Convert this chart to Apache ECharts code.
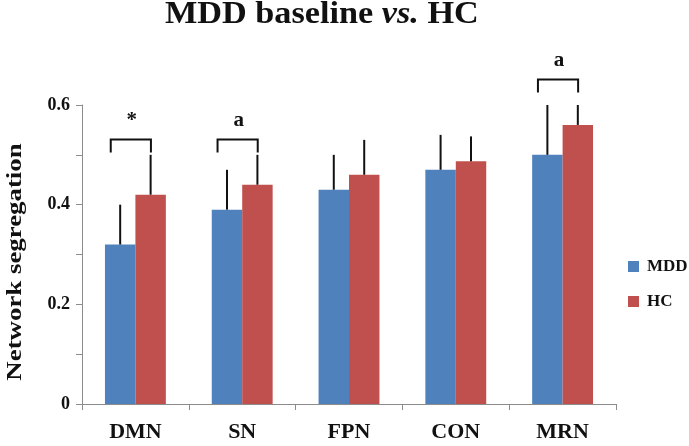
<!DOCTYPE html>
<html>
<head>
<meta charset="utf-8">
<script src="https://cdn.jsdelivr.net/npm/echarts@6/dist/echarts.min.js"></script>
<style>html,body{margin:0;padding:0;background:#fff;}#c{width:689px;height:446px;}</style>
</head>
<body>
<div id="c"></div>
<script>
// ---- data ----
const categories = ['DMN', 'SN', 'FPN', 'CON', 'MRN'];
const mddMean = [0.32, 0.39, 0.43, 0.47, 0.50];
const mddErr  = [0.08, 0.08, 0.07, 0.07, 0.10];
const hcMean  = [0.42, 0.44, 0.46, 0.487, 0.56];
const hcErr   = [0.08, 0.06, 0.07, 0.05, 0.04];
const sigCategories = ['DMN', 'SN', 'MRN'];
const sigMarks = ['*', 'a', 'a'];
const sigLevels = [0.531, 0.531, 0.651];
const yTickLabels = ['0', '0.2', '0.4', '0.6'];
const titleParts = ['MDD baseline ', 'vs.', ' HC'];
const yAxisTitle = 'Network segregation';

// ---- style ----
const SERIF = "'Liberation Serif','Times New Roman',serif";
const BLUE = '#4F81BD', RED = '#C0504D', AXIS = '#8c8c8c';
const BAR_FRAC = 0.285;

const chart = echarts.init(document.getElementById('c'), null, {renderer: 'canvas'});

function errItems(means, errs, side) {
  return means.map((m, i) => [i, m, m + errs[i], side]);
}

function renderErr(params, api) {
  const i = api.value(0);
  const side = api.value(3);
  const band = api.size([1, 0])[0];
  const bw = band * BAR_FRAC;
  const p0 = api.coord([i, api.value(1)]);
  const p1 = api.coord([i, api.value(2)]);
  const x = p0[0] + side * bw / 2;
  return {
    type: 'line',
    shape: {x1: x, y1: p0[1], x2: x, y2: p1[1]},
    style: {stroke: '#111', lineWidth: 2}
  };
}

function renderSig(params, api) {
  const i = api.value(0);
  const band = api.size([1, 0])[0];
  const bw = band * BAR_FRAC;
  const p = api.coord([i, api.value(1)]);
  const xl = p[0] - 0.81 * bw;
  const xr = p[0] + 0.51 * bw;
  const y = p[1];
  const leg = 13;
  return {
    type: 'group',
    children: [
      {type: 'polyline', shape: {points: [[xl, y + leg], [xl, y], [xr, y], [xr, y + leg]]},
       style: {stroke: '#111', lineWidth: 2, fill: null}},
      {type: 'text', style: {text: sigMarks[params.dataIndex], x: (xl + xr) / 2 + 1, y: y - 19,
        align: 'center', verticalAlign: 'middle', font: 'bold 21px ' + SERIF, fill: '#111'}}
    ]
  };
}

const option = {
  backgroundColor: '#fff',
  animation: false,
  graphic: [
    {
      type: 'text', x: 165, y: 15, scaleX: 1.07, originX: 0,
      style: {
        text: '{b|' + titleParts[0] + '}{i|' + titleParts[1] + '}{b|' + titleParts[2] + '}',
        align: 'left', verticalAlign: 'middle',
        rich: {
          b: {fontFamily: SERIF, fontWeight: 'bold', fontSize: 32, fill: '#111'},
          i: {fontFamily: SERIF, fontWeight: 'bold', fontStyle: 'italic', fontSize: 32, fill: '#111'}
        }
      }
    },
    {
      type: 'text', x: 15, y: 262, rotation: Math.PI / 2, scaleX: 1.22,
      style: {
        text: yAxisTitle, align: 'center', verticalAlign: 'middle',
        font: 'bold 22px ' + SERIF, fill: '#111'
      }
    }
  ],
  legend: {
    data: ['MDD', 'HC'],
    orient: 'vertical',
    left: 623, top: 253,
    itemWidth: 11, itemHeight: 11, itemGap: 18,
    icon: 'rect',
    textStyle: {fontFamily: SERIF, fontWeight: 'bold', fontSize: 17, color: '#111', padding: [0, 0, 0, 3]}
  },
  grid: {left: 82, right: 73, top: 105, bottom: 42},
  xAxis: {
    type: 'category',
    data: categories,
    axisLine: {lineStyle: {color: AXIS, width: 1}},
    axisTick: {show: true, length: 6, lineStyle: {color: AXIS}},
    axisLabel: {fontFamily: SERIF, fontWeight: 'bold', fontSize: 22, color: '#111', margin: 17}
  },
  yAxis: {
    type: 'value', min: 0, max: 0.6, interval: 0.1,
    axisLine: {show: true, lineStyle: {color: AXIS, width: 1}},
    axisTick: {show: true, length: 6, lineStyle: {color: AXIS}},
    splitLine: {show: false},
    axisLabel: {
      fontFamily: SERIF, fontWeight: 'bold', fontSize: 18, color: '#111', margin: 12,
      formatter: function (v) {
        const k = Math.round(v * 10);
        return (k % 2 === 0) ? yTickLabels[k / 2] : '';
      }
    }
  },
  series: [
    {name: 'MDD', type: 'bar', data: mddMean, barWidth: (BAR_FRAC * 100) + '%', barGap: '0%',
     itemStyle: {color: BLUE}},
    {name: 'HC', type: 'bar', data: hcMean, barWidth: (BAR_FRAC * 100) + '%', barGap: '0%',
     itemStyle: {color: RED}},
    {type: 'custom', renderItem: renderErr, data: errItems(mddMean, mddErr, -1), clip: false, z: 5,
     encode: {x: 0, y: [1, 2]}},
    {type: 'custom', renderItem: renderErr, data: errItems(hcMean, hcErr, 1), clip: false, z: 5,
     encode: {x: 0, y: [1, 2]}},
    {type: 'custom', renderItem: renderSig, clip: false, z: 6,
     data: sigCategories.map((c, k) => [categories.indexOf(c), sigLevels[k]]),
     encode: {x: 0, y: 1}}
  ]
};
chart.setOption(option);
</script>
</body>
</html>
